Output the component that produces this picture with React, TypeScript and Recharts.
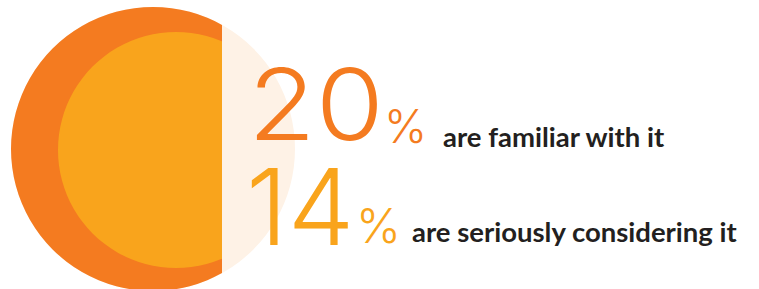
import React from 'react';
import { PieChart, Pie, Cell } from 'recharts';

const circleNames = ['outer', 'inner'];
const circleValues = [100, 100];
const shareValues = [20, 14];
const shareLabels = ['are familiar with it', 'are seriously considering it'];
const shareColors = ['#F47B20', '#F9A41C'];

const outerData = [{ name: circleNames[0], value: circleValues[0] }];
const innerData = [{ name: circleNames[1], value: circleValues[1] }];

const W = 759;
const H = 289;
const PALE = '#FEF2E6';

export default function App() {
  return (
    <div style={{ position: 'absolute', left: 0, top: 0, width: W, height: H, background: '#fff' }}>
      <PieChart width={W} height={H} margin={{ top: 0, right: 0, bottom: 0, left: 0 }}>
        <defs>
          <clipPath id="leftClip">
            <rect x={0} y={0} width={222} height={H} />
          </clipPath>
        </defs>
        <Pie
          data={outerData}
          dataKey="value"
          cx={153}
          cy={149}
          outerRadius={142}
          innerRadius={0}
          startAngle={90}
          endAngle={450}
          stroke="none"
          isAnimationActive={false}
        >
          <Cell fill={PALE} />
        </Pie>
        <Pie
          data={outerData}
          dataKey="value"
          cx={153}
          cy={149}
          outerRadius={142}
          innerRadius={0}
          startAngle={90}
          endAngle={450}
          stroke="none"
          isAnimationActive={false}
          clipPath="url(#leftClip)"
        >
          <Cell fill={shareColors[0]} clipPath="url(#leftClip)" />
        </Pie>
        <Pie
          data={innerData}
          dataKey="value"
          cx={176}
          cy={150}
          outerRadius={118}
          innerRadius={0}
          startAngle={90}
          endAngle={450}
          stroke="none"
          isAnimationActive={false}
          clipPath="url(#leftClip)"
        >
          <Cell fill={shareColors[1]} clipPath="url(#leftClip)" />
        </Pie>
      </PieChart>
      <svg
        width={W}
        height={H}
        style={{ position: 'absolute', left: 0, top: 0, pointerEvents: 'none' }}
      >
        <g fontFamily="Inter, 'Open Sans', sans-serif">
          <text x={248} y={140} fontSize={99} fontWeight={300} fill={shareColors[0]} textLength={136} lengthAdjust="spacingAndGlyphs">{shareValues[0]}</text>
          <text x={384} y={143} fontSize={46} fontWeight={300} fill={shareColors[0]}>%</text>
          <text x={246} y={245} fontSize={106} fontWeight={300} fill={shareColors[1]}>{shareValues[1]}</text>
          <text x={356} y={243} fontSize={48} fontWeight={300} fill={shareColors[1]}>%</text>
        </g>
        <g fontFamily="Lato, 'Open Sans', sans-serif">
          <text x={443} y={147} fontSize={27.5} fontWeight={700} fill="#231F20">{shareLabels[0]}</text>
          <text x={412} y={242} fontSize={27.5} fontWeight={700} fill="#231F20">{shareLabels[1]}</text>
        </g>
      </svg>
    </div>
  );
}
